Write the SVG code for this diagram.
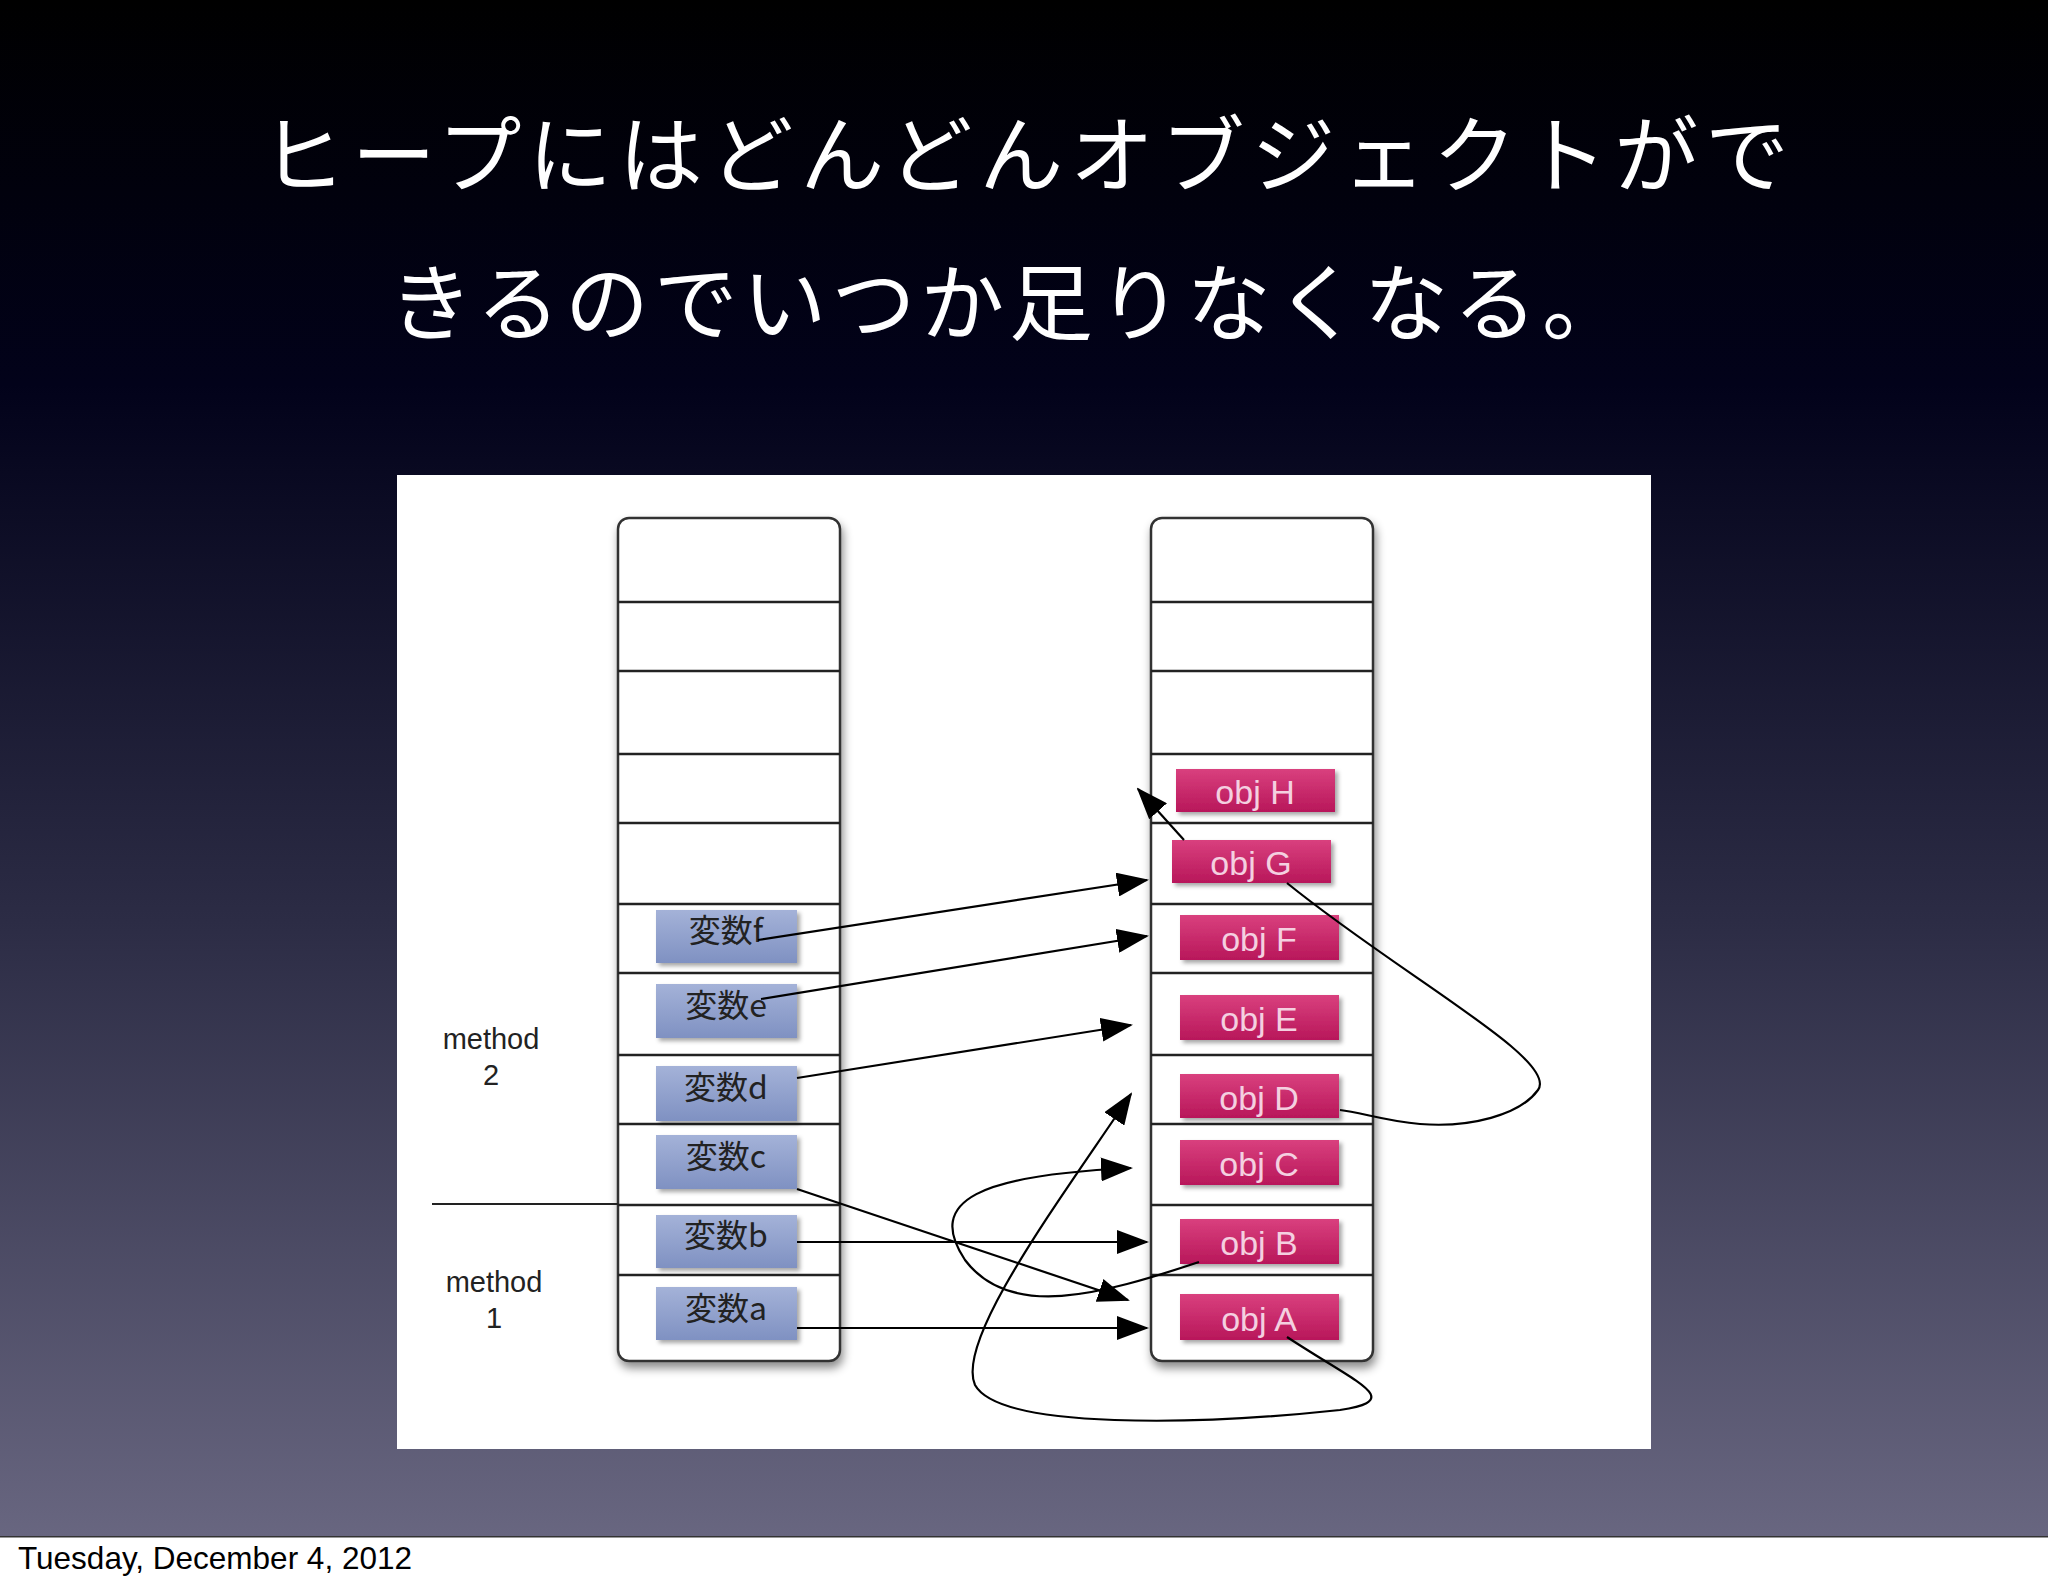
<svg xmlns="http://www.w3.org/2000/svg" width="2048" height="1587" viewBox="0 0 2048 1587">
<defs>
<linearGradient id="bg" x1="0" y1="0" x2="0" y2="1">
<stop offset="0" stop-color="#000"/><stop offset="0.25" stop-color="#02021a"/><stop offset="0.6" stop-color="#2c2c45"/><stop offset="1" stop-color="#686680"/>
</linearGradient>
<filter id="sh" x="-20%" y="-5%" width="140%" height="115%"><feDropShadow dx="2" dy="6" stdDeviation="5" flood-color="#000" flood-opacity="0.45"/></filter>
<filter id="sh2" x="-10%" y="-20%" width="130%" height="150%"><feDropShadow dx="3" dy="3" stdDeviation="2" flood-color="#000" flood-opacity="0.35"/></filter>
<linearGradient id="bl" x1="0" y1="0" x2="0" y2="1"><stop offset="0" stop-color="#a4b2d8"/><stop offset="1" stop-color="#7f91c2"/></linearGradient>
<linearGradient id="pk" x1="0" y1="0" x2="0" y2="1"><stop offset="0" stop-color="#d9407e"/><stop offset="1" stop-color="#b8175a"/></linearGradient>
<marker id="ahb" markerWidth="32" markerHeight="24" refX="30" refY="12" orient="auto" markerUnits="userSpaceOnUse"><path d="M0,0 L32,12 L0,24 z" fill="#000"/></marker>
</defs>
<style>
.title{font-family:"Noto Sans CJK JP",sans-serif;font-size:84px;fill:#fff}
.col{fill:#fff;stroke:#333;stroke-width:2.5}
.row{stroke:#222;stroke-width:2.5}
.v{fill:url(#bl)}
.o{fill:url(#pk)}
.vt{font-family:"Noto Sans CJK JP","Liberation Sans",sans-serif;font-size:32px;fill:#222;text-anchor:middle}
.ot{font-family:"Liberation Sans",sans-serif;font-size:34px;fill:#f4d0e0;text-anchor:middle}
.lab{font-family:"Liberation Sans",sans-serif;font-size:29px;fill:#222;text-anchor:middle}
.c{fill:none;stroke:#000;stroke-width:2.2}
</style>
<rect width="2048" height="1536" fill="url(#bg)"/>
<rect y="1536" width="2048" height="51" fill="#fff"/>
<rect x="0" y="1536" width="2048" height="1.5" fill="#333"/>
<text x="18" y="1569" font-family="Liberation Sans, sans-serif" font-size="31.5" fill="#000">Tuesday, December 4, 2012</text>
<text class="title" x="261" y="186" textLength="1528" lengthAdjust="spacing">ヒープにはどんどんオブジェクトがで</text>
<text class="title" x="389" y="334" textLength="1237" lengthAdjust="spacing">きるのでいつか足りなくなる。</text>
<rect x="397" y="475" width="1254" height="974" fill="#fff"/>
<g id="stack">
<rect class="col" x="618" y="518" width="222" height="843" rx="11" filter="url(#sh)"/>
<g class="row"><line x1="618" y1="602" x2="840" y2="602"/><line x1="618" y1="671" x2="840" y2="671"/><line x1="618" y1="754" x2="840" y2="754"/><line x1="618" y1="823" x2="840" y2="823"/><line x1="618" y1="904" x2="840" y2="904"/><line x1="618" y1="973" x2="840" y2="973"/><line x1="618" y1="1055" x2="840" y2="1055"/><line x1="618" y1="1124" x2="840" y2="1124"/><line x1="618" y1="1205" x2="840" y2="1205"/><line x1="618" y1="1275" x2="840" y2="1275"/></g>
</g>
<g id="heap">
<rect class="col" x="1151" y="518" width="222" height="843" rx="11" filter="url(#sh)"/>
<g class="row"><line x1="1151" y1="602" x2="1373" y2="602"/><line x1="1151" y1="671" x2="1373" y2="671"/><line x1="1151" y1="754" x2="1373" y2="754"/><line x1="1151" y1="823" x2="1373" y2="823"/><line x1="1151" y1="904" x2="1373" y2="904"/><line x1="1151" y1="973" x2="1373" y2="973"/><line x1="1151" y1="1055" x2="1373" y2="1055"/><line x1="1151" y1="1124" x2="1373" y2="1124"/><line x1="1151" y1="1205" x2="1373" y2="1205"/><line x1="1151" y1="1275" x2="1373" y2="1275"/></g>
</g>
<g id="var-f"><rect class="v" x="656" y="910" width="141" height="53" filter="url(#sh2)"/><text class="vt" x="726" y="942">変数f</text></g>
<g id="var-e"><rect class="v" x="656" y="984" width="141" height="54" filter="url(#sh2)"/><text class="vt" x="726" y="1017">変数e</text></g>
<g id="var-d"><rect class="v" x="656" y="1066" width="141" height="55" filter="url(#sh2)"/><text class="vt" x="726" y="1099">変数d</text></g>
<g id="var-c"><rect class="v" x="656" y="1135" width="141" height="54" filter="url(#sh2)"/><text class="vt" x="726" y="1168">変数c</text></g>
<g id="var-b"><rect class="v" x="656" y="1215" width="141" height="53" filter="url(#sh2)"/><text class="vt" x="726" y="1247">変数b</text></g>
<g id="var-a"><rect class="v" x="656" y="1287" width="141" height="53" filter="url(#sh2)"/><text class="vt" x="726" y="1320">変数a</text></g>
<g id="obj-H"><rect class="o" x="1176" y="769" width="159" height="43" filter="url(#sh2)"/><text class="ot" x="1255" y="804">obj H</text></g>
<g id="obj-G"><rect class="o" x="1172" y="840" width="159" height="43" filter="url(#sh2)"/><text class="ot" x="1251" y="875">obj G</text></g>
<g id="obj-F"><rect class="o" x="1180" y="915" width="159" height="45" filter="url(#sh2)"/><text class="ot" x="1259" y="951">obj F</text></g>
<g id="obj-E"><rect class="o" x="1180" y="995" width="159" height="45" filter="url(#sh2)"/><text class="ot" x="1259" y="1031">obj E</text></g>
<g id="obj-D"><rect class="o" x="1180" y="1074" width="159" height="44" filter="url(#sh2)"/><text class="ot" x="1259" y="1110">obj D</text></g>
<g id="obj-C"><rect class="o" x="1180" y="1140" width="159" height="45" filter="url(#sh2)"/><text class="ot" x="1259" y="1176">obj C</text></g>
<g id="obj-B"><rect class="o" x="1180" y="1219" width="159" height="45" filter="url(#sh2)"/><text class="ot" x="1259" y="1255">obj B</text></g>
<g id="obj-A"><rect class="o" x="1180" y="1294" width="159" height="46" filter="url(#sh2)"/><text class="ot" x="1259" y="1331">obj A</text></g>
<g id="labels">
<text class="lab" x="491" y="1049">method</text><text class="lab" x="491" y="1085">2</text>
<text class="lab" x="494" y="1292">method</text><text class="lab" x="494" y="1328">1</text>
<line x1="432" y1="1204" x2="618" y2="1204" stroke="#222" stroke-width="2"/>
</g>
<g id="connectors">
<path class="c" d="M758,940 L1147,880" marker-end="url(#ahb)"/>
<path class="c" d="M761,999 L1147,936" marker-end="url(#ahb)"/>
<path class="c" d="M797,1078 L1131,1025" marker-end="url(#ahb)"/>
<path class="c" d="M797,1189 L1128,1300" marker-end="url(#ahb)"/>
<path class="c" d="M797,1242 L1147,1242" marker-end="url(#ahb)"/>
<path class="c" d="M797,1328 L1147,1328" marker-end="url(#ahb)"/>
<path class="c" d="M1184,840 L1138,789" marker-end="url(#ahb)"/>
<path class="c" d="M1287,883 C1400,975 1560,1060 1538,1090 C1520,1115 1470,1128 1420,1124 C1385,1121 1360,1112 1340,1110"/>
<path class="c" d="M1199,1262 C1100,1295 1010,1320 965,1260 C925,1200 980,1175 1131,1168" marker-end="url(#ahb)"/>
<path class="c" d="M1287,1337 C1360,1385 1405,1400 1340,1410 C1200,1425 1000,1430 975,1385 C955,1340 1060,1200 1131,1094" marker-end="url(#ahb)"/>
</g>
</svg>
